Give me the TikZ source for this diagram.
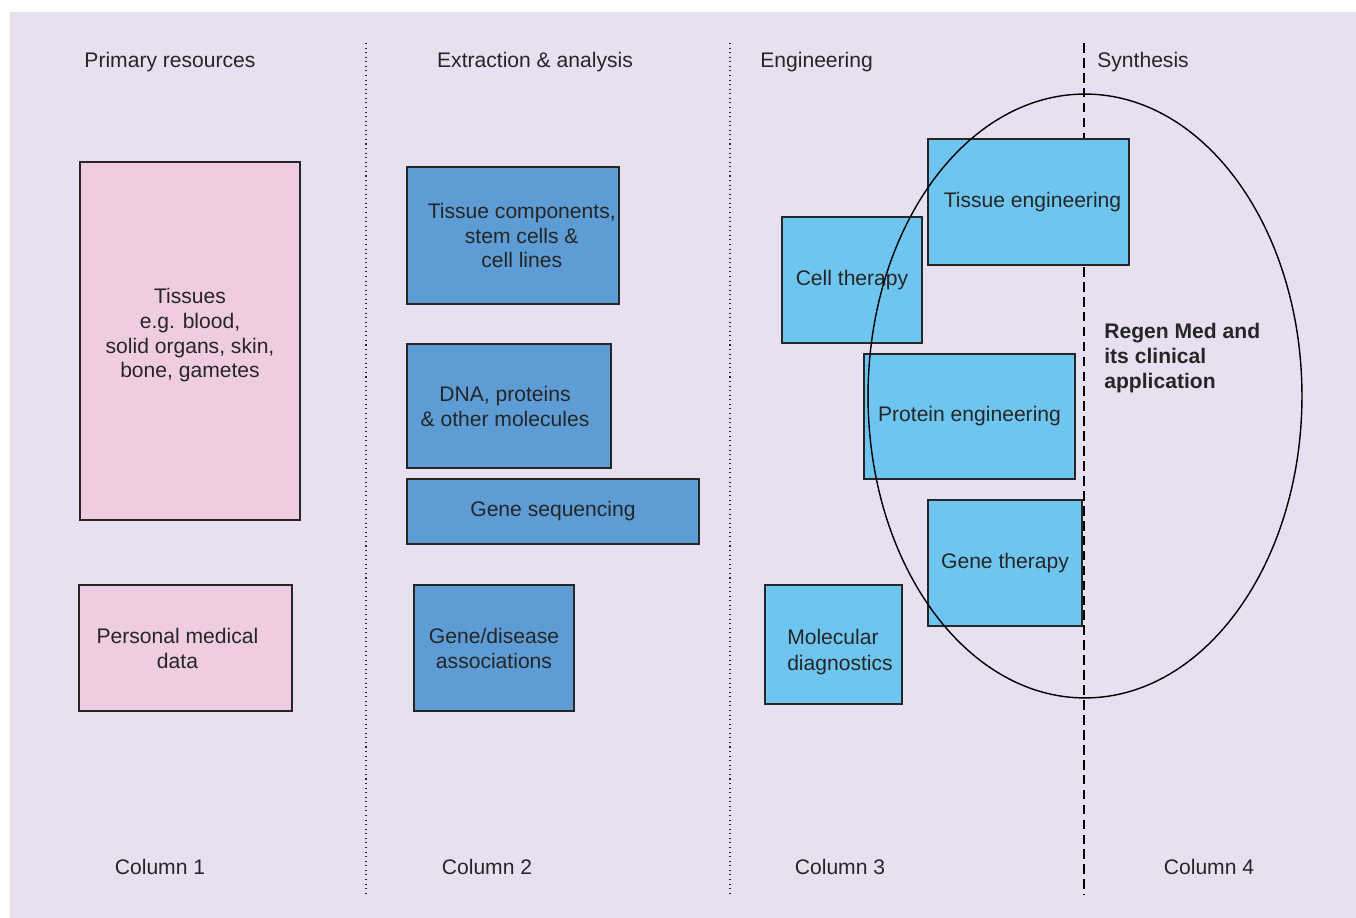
\documentclass[tikz,border=0pt]{standalone}
\usepackage{fontspec}
\setmainfont{Liberation Sans}
\usepackage{tikz}
\usetikzlibrary{positioning}
\usepackage{xcolor}

\definecolor{bgcol}{HTML}{E7E0F0}
\definecolor{pinkcol}{HTML}{EFCCE2}
\definecolor{darkblue}{HTML}{5D9CD4}
\definecolor{lightblue}{HTML}{6EC6F0}
\definecolor{inkcol}{HTML}{262626}

\tikzset{
  box/.style={draw=inkcol, line width=0.8pt, rectangle, inner sep=0pt, align=center,
    font=\fontsize{12}{14.2}\selectfont, text=inkcol},
  pinkbox/.style={box, fill=pinkcol},
  darkbox/.style={box, fill=darkblue},
  lightbox/.style={box, fill=lightblue},
  label/.style={font=\fontsize{12}{14.2}\selectfont, text=inkcol, inner sep=0pt},
}

\begin{document}
\begin{tikzpicture}[x=0.02cm, y=-0.02cm]
  \useasboundingbox (0,0) rectangle (1356,918);
  \fill[bgcol] (10,12) rectangle (1356,918);

  % column dividers
  \draw[inkcol, line width=0.6pt, dotted] (366,43) -- (366,893);
  \draw[inkcol, line width=0.6pt, dotted] (730,43) -- (730,893);
  \draw[black, line width=0.7pt, dash pattern=on 5.5pt off 3pt] (1084,43) -- (1084,895);

  % headings
  \node (h1) [label] at (170,62) {Primary resources};
  \node (h2) [label] at (535,62) {Extraction \& analysis};
  \node (h3) [label, anchor=west] at (760,62) {Engineering};
  \node (h4) [label, anchor=west] at (1097,62) {Synthesis};

  % column 1
  \node (tissues) [pinkbox, minimum width=4.4cm, minimum height=7.16cm] at (190,341)
    {Tissues\\ e.g. blood,\\ solid organs, skin,\\ bone, gametes\\[-5pt]};
  \node (pmd) [pinkbox, minimum width=4.26cm, minimum height=2.52cm] at (185.5,648)
    {Personal medical\hspace*{0.32cm}\\ data\hspace*{0.32cm}};

  % column 2
  \node (comp) [darkbox, minimum width=4.24cm, minimum height=2.74cm] at (513,235.5)
    {\hspace*{0.35cm}Tissue components,\\ \hspace*{0.35cm}stem cells \&\\ \hspace*{0.35cm}cell lines};
  \node (dna) [darkbox, minimum width=4.08cm, minimum height=2.48cm] at (509,406)
    {DNA, proteins\hspace*{0.16cm}\\ \& other molecules\hspace*{0.16cm}};
  \node (seq) [darkbox, minimum width=5.84cm, minimum height=1.3cm] at (553,511.5)
    {Gene sequencing};
  \node (assoc) [darkbox, minimum width=3.2cm, minimum height=2.52cm] at (494,648)
    {Gene/disease\\ associations};

  % column 3
  \node (cell) [lightbox, minimum width=2.8cm, minimum height=2.52cm] at (852,280)
    {Cell therapy};
  \node (tiseng) [lightbox, minimum width=4.02cm, minimum height=2.52cm] at (1028.5,202)
    {\hspace*{0.16cm}Tissue engineering};
  \node (prot) [lightbox, minimum width=4.22cm, minimum height=2.5cm] at (969.5,416.5)
    {Protein engineering};
  \node (gene) [lightbox, minimum width=3.08cm, minimum height=2.52cm] at (1005,563)
    {Gene therapy};
  \node (diag) [lightbox, align=left, minimum width=2.74cm, minimum height=2.38cm] at (833.5,644.5)
    {\hspace*{0.26cm}Molecular\\[0.5pt] \hspace*{0.26cm}diagnostics\\[-20pt]};

  % synthesis
  \draw[black, line width=0.8pt] (1085,396) ellipse [x radius=4.34cm, y radius=6.04cm];
  \node (regen) [label, anchor=north west, align=left, font=\bfseries\fontsize{12}{14.2}\selectfont]
    at (1104,323) {Regen Med and\\ its clinical\\ application};

  % column labels
  \node (c1) [label] at (160,867) {Column 1};
  \node (c2) [label] at (487,867) {Column 2};
  \node (c3) [label] at (840,867) {Column 3};
  \node (c4) [label] at (1209,867) {Column 4};
\end{tikzpicture}
\end{document}
